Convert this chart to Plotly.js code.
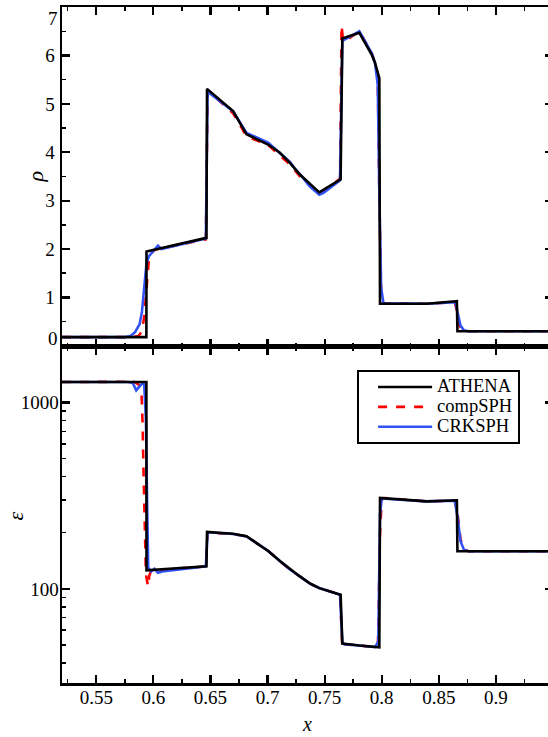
<!DOCTYPE html>
<html>
<head>
<meta charset="utf-8">
<script src="https://cdn.plot.ly/plotly-3.0.1.min.js"></script>
<style>
html,body{margin:0;padding:0;overflow:hidden;background:#fff;}
#chart{width:556px;height:737px;}
</style>
</head>
<body>
<div id="chart"></div>
<script>
// ---------- ATHENA (reference solution) ----------
const athenaX = [0.52, 0.5939, 0.5940, 0.6465, 0.6470, 0.6698, 0.6816, 0.6903, 0.7005, 0.7108, 0.7196, 0.7283, 0.7367, 0.7453, 0.7640, 0.7655, 0.7804, 0.7912, 0.7941, 0.7979, 0.7985, 0.8395, 0.8658, 0.8663, 0.95];
const athenaRho = [0.18, 0.18, 1.95, 2.23, 5.31, 4.85, 4.37, 4.28, 4.16, 3.99, 3.78, 3.54, 3.35, 3.17, 3.44, 6.35, 6.47, 6.02, 5.85, 5.53, 0.87, 0.87, 0.92, 0.30, 0.30];
const athenaEps = [1286, 1286, 125.8, 132, 202, 197.6, 191.5, 176.4, 159.7, 141, 127.4, 116.6, 107.3, 100.9, 93.1, 50.9, 49.7, 48.9, 48.7, 48.6, 307.4, 294.7, 298.5, 159, 159];

// ---------- compSPH ----------
const compRhoX = [0.52, 0.575, 0.582, 0.587, 0.590, 0.592, 0.594, 0.596, 0.598, 0.601, 0.604, 0.646, 0.6475, 0.649, 0.670, 0.6816, 0.7005, 0.7196, 0.7283, 0.7453, 0.7635, 0.7648, 0.766, 0.768, 0.7804, 0.7912, 0.7941, 0.7965, 0.798, 0.7995, 0.801, 0.8395, 0.864, 0.866, 0.868, 0.871, 0.875, 0.95];
const compRho = [0.18, 0.18, 0.18, 0.20, 0.30, 0.60, 1.20, 1.75, 1.90, 1.98, 2.00, 2.20, 5.25, 5.25, 4.80, 4.33, 4.15, 3.75, 3.50, 3.15, 3.45, 6.62, 6.35, 6.30, 6.50, 6.05, 5.85, 5.60, 3.00, 1.10, 0.88, 0.87, 0.90, 0.70, 0.42, 0.32, 0.30, 0.30];
const compEpsX = [0.52, 0.575, 0.5795, 0.583, 0.587, 0.5895, 0.5905, 0.5915, 0.5925, 0.5935, 0.5953, 0.5965, 0.598, 0.646, 0.6475, 0.6698, 0.6816, 0.6903, 0.7005, 0.7108, 0.7196, 0.7283, 0.7367, 0.7453, 0.7635, 0.7655, 0.767, 0.7804, 0.7941, 0.7965, 0.797, 0.7985, 0.800, 0.802, 0.8395, 0.864, 0.8665, 0.869, 0.872, 0.876, 0.95];
const compEps = [1286, 1290, 1325, 1290, 1250, 1170, 800, 400, 180, 120, 103, 118, 125, 132, 200, 197, 191, 176, 160, 141, 127, 116.6, 107, 101, 93, 48, 50.5, 49.7, 48.7, 49, 60, 200, 300, 307, 294.7, 297, 250, 185, 163, 159, 159];

// ---------- CRKSPH ----------
const crkRhoX = [0.52, 0.575, 0.580, 0.584, 0.588, 0.590, 0.592, 0.594, 0.596, 0.600, 0.604, 0.607, 0.646, 0.6475, 0.6698, 0.6816, 0.7005, 0.7196, 0.724, 0.7283, 0.7367, 0.7453, 0.749, 0.7635, 0.7655, 0.7804, 0.7912, 0.7941, 0.7965, 0.798, 0.7995, 0.8015, 0.8395, 0.8645, 0.8665, 0.869, 0.872, 0.876, 0.95];
const crkRho = [0.18, 0.18, 0.20, 0.28, 0.45, 0.70, 1.20, 1.70, 1.85, 1.95, 2.07, 2.00, 2.22, 5.25, 4.85, 4.40, 4.20, 3.80, 3.66, 3.55, 3.30, 3.12, 3.16, 3.42, 6.30, 6.50, 6.05, 5.85, 5.40, 3.00, 1.20, 0.88, 0.87, 0.90, 0.65, 0.42, 0.32, 0.30, 0.30];
const crkEpsX = [0.52, 0.578, 0.582, 0.585, 0.588, 0.5905, 0.592, 0.5935, 0.5945, 0.5955, 0.598, 0.601, 0.604, 0.608, 0.646, 0.6475, 0.6698, 0.6816, 0.6903, 0.7005, 0.7108, 0.7196, 0.7283, 0.7367, 0.7453, 0.7635, 0.7655, 0.767, 0.7804, 0.7941, 0.797, 0.7985, 0.800, 0.8395, 0.864, 0.8665, 0.869, 0.872, 0.876, 0.95];
const crkEps = [1286, 1286, 1270, 1160, 1220, 1270, 1250, 800, 300, 130, 124, 128, 122, 124, 132, 201, 197, 191, 176, 160, 141, 127, 116.6, 107, 101, 93, 52, 50.5, 49.7, 48.7, 52, 250, 305, 294.7, 297, 240, 180, 162, 159, 159];

const seriesNames = ['ATHENA', 'compSPH', 'CRKSPH'];
const xTickVals = [0.55, 0.6, 0.65, 0.7, 0.75, 0.8, 0.85, 0.9];
const xTickText = ['0.55', '0.6', '0.65', '0.7', '0.75', '0.8', '0.85', '0.9'];
const rhoTickVals = [0, 1, 2, 3, 4, 5, 6, 7];
const rhoTickText = ['0', '1', '2', '3', '4', '5', '6', '7'];
const epsTickVals = [100, 1000];
const epsTickText = ['100', '1000'];
const axisTitles = {x: 'x', rho: 'ρ', eps: 'ε'};

const FONT = 'Liberation Serif';
const RED = '#ff0000', BLUE = '#3352f5', BLACK = '#000000';
const LW = 2.6;

function legendName(s) {
  return '<span style="font-size:18.5px">' + s + '</span>';
}

const traces = [
  {x: compRhoX, y: compRho, xaxis: 'x2', yaxis: 'y2', mode: 'lines', name: legendName(seriesNames[1]), legendrank: 2, showlegend: true,
   line: {color: RED, width: LW, dash: 'dash'}},
  {x: crkRhoX, y: crkRho, xaxis: 'x2', yaxis: 'y2', mode: 'lines', name: legendName(seriesNames[2]), legendrank: 3, showlegend: true,
   line: {color: BLUE, width: LW}},
  {x: athenaX, y: athenaRho, xaxis: 'x2', yaxis: 'y2', mode: 'lines', name: legendName(seriesNames[0]), legendrank: 1, showlegend: true,
   line: {color: BLACK, width: LW}},
  {x: compEpsX, y: compEps, xaxis: 'x', yaxis: 'y', mode: 'lines', name: seriesNames[1], showlegend: false,
   line: {color: RED, width: LW, dash: 'dash'}},
  {x: crkEpsX, y: crkEps, xaxis: 'x', yaxis: 'y', mode: 'lines', name: seriesNames[2], showlegend: false,
   line: {color: BLUE, width: LW}},
  {x: athenaX, y: athenaEps, xaxis: 'x', yaxis: 'y', mode: 'lines', name: seriesNames[0], showlegend: false,
   line: {color: BLACK, width: LW}}
];

function axisBase() {
  return {
    showline: true, linecolor: '#000', linewidth: 2.5, mirror: 'allticks',
    ticks: 'inside', ticklen: 8, tickwidth: 2.2, tickcolor: '#000',
    showgrid: false, zeroline: false, automargin: false,
    ticklabeloverflow: 'allow',
    tickfont: {family: FONT, size: 19, color: '#000'}
  };
}

const splitY = 0.4974;
const lastRho = rhoTickVals.length - 1;

// End labels of the rho axis are kept inside the panel (as in the reference)
const rhoTickTextInner = rhoTickText.map((t, i) => (i === 0 || i === lastRho) ? '' : t);

const annotations = [
  {xref: 'x2 domain', yref: 'y2', x: 0, y: rhoTickVals[lastRho], xanchor: 'right', yanchor: 'top', xshift: -2, yshift: 1,
   text: rhoTickText[lastRho], showarrow: false, font: {family: FONT, size: 19, color: '#000'}},
  {xref: 'x2 domain', yref: 'y2', x: 0, y: rhoTickVals[0], xanchor: 'right', yanchor: 'bottom', xshift: -2, yshift: -5,
   text: rhoTickText[0], showarrow: false, font: {family: FONT, size: 19, color: '#000'}},
  {xref: 'paper', yref: 'paper', x: -0.055, y: 0.7494, xanchor: 'center', yanchor: 'middle', textangle: -90,
   text: '<i>' + axisTitles.rho + '</i>', showarrow: false, font: {family: FONT, size: 22, color: '#000'}},
  {xref: 'paper', yref: 'paper', x: -0.0937, y: 0.2476, xanchor: 'center', yanchor: 'middle', textangle: -90,
   text: '<i>' + axisTitles.eps + '</i>', showarrow: false, font: {family: FONT, size: 22, color: '#000'}},
  {xref: 'paper', yref: 'paper', x: 0.499, y: -0.0609, xanchor: 'center', yanchor: 'middle',
   text: '<i>' + axisTitles.x + '</i>', showarrow: false, font: {family: FONT, size: 20, color: '#000'}}
];

const layout = {
  width: 556, height: 737,
  margin: {l: 62, r: 3, t: 7, b: 53.5},
  paper_bgcolor: '#fff', plot_bgcolor: '#fff',
  font: {family: FONT, size: 19, color: '#000'},
  showlegend: true,
  annotations: annotations,
  legend: {
    x: 0.601, y: 0.463, xanchor: 'left', yanchor: 'top',
    bgcolor: '#fff', bordercolor: '#000', borderwidth: 2,
    font: {family: FONT, size: 13, color: '#000'},
    tracegroupgap: 0, itemwidth: 54, indentation: 14
  },
  xaxis: Object.assign(axisBase(), {
    anchor: 'y', domain: [0, 1], range: [0.52, 0.95],
    tickvals: xTickVals, ticktext: xTickText, ticklabelstandoff: -4,
    minor: {dtick: 0.025, tick0: 0, ticks: 'inside', ticklen: 4, tickwidth: 1.5, tickcolor: '#000'}
  }),
  yaxis: Object.assign(axisBase(), {
    anchor: 'x', domain: [0, splitY], type: 'log', range: [1.495, 3.2985],
    tickvals: epsTickVals, ticktext: epsTickText, ticklabelstandoff: -3,
    minor: {tickvals: [30, 40, 50, 60, 70, 80, 90, 200, 300, 400, 500, 600, 700, 800, 900], ticks: 'inside', ticklen: 4, tickwidth: 1.5, tickcolor: '#000'}
  }),
  xaxis2: Object.assign(axisBase(), {
    anchor: 'y2', domain: [0, 1], range: [0.52, 0.95], matches: 'x',
    tickvals: xTickVals, showticklabels: false,
    minor: {dtick: 0.025, tick0: 0, ticks: 'inside', ticklen: 4, tickwidth: 1.5, tickcolor: '#000'}
  }),
  yaxis2: Object.assign(axisBase(), {
    anchor: 'x2', domain: [splitY, 1], range: [-0.02, 7.002],
    tickvals: rhoTickVals, ticktext: rhoTickTextInner, ticklabelstandoff: 1,
    minor: {dtick: 0.5, tick0: 0, ticks: 'inside', ticklen: 4, tickwidth: 1.5, tickcolor: '#000'}
  })
};

Plotly.newPlot('chart', traces, layout, {displayModeBar: false, staticPlot: true});
</script>
</body>
</html>
